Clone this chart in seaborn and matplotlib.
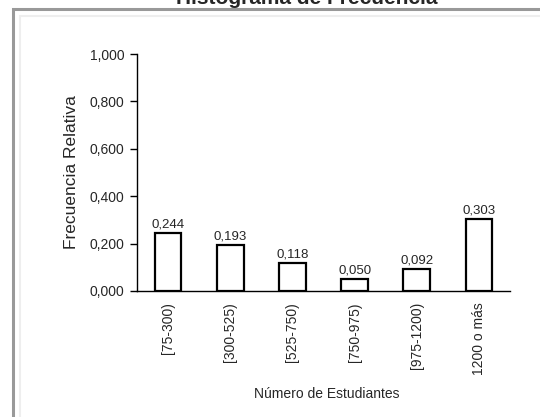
import matplotlib
matplotlib.use("Agg")
import matplotlib.pyplot as plt
from matplotlib.patches import Rectangle
from matplotlib.ticker import FuncFormatter
import seaborn as sns
import pandas as pd

categorias = ["[75-300)", "[300-525)", "[525-750)", "[750-975)", "[975-1200)", "1200 o más"]
frecuencia_relativa = [0.244, 0.193, 0.118, 0.050, 0.092, 0.303]

sns.set_style("white")
plt.rcParams["font.family"] = ["Liberation Sans", "DejaVu Sans"]

df = pd.DataFrame({"clase": categorias, "fr": frecuencia_relativa})

fig = plt.figure(figsize=(5.4, 4.17), dpi=100)

# marco exterior gris y marco interior claro
fig.patches.append(Rectangle((13 / 540, -0.1), 2.0, 1 - 9 / 417 + 0.1,
                             transform=fig.transFigure, fill=False,
                             edgecolor="#999999", linewidth=2.2))
fig.patches.append(Rectangle((20 / 540, -0.1), 2.0, 1 - 16.5 / 417 + 0.1,
                             transform=fig.transFigure, fill=False,
                             edgecolor="#eeeeee", linewidth=1.5))

ax = fig.add_axes([137 / 540, 1 - 291 / 417, 373 / 540, 237 / 417])
sns.barplot(data=df, x="clase", y="fr", ax=ax, color="white",
            edgecolor="black", linewidth=1.6, width=0.43, saturation=1)

ax.set_xlim(-0.5, 5.5)
ax.set_ylim(0, 1.0)
ax.set_yticks([0, 0.2, 0.4, 0.6, 0.8, 1.0])
ax.yaxis.set_major_formatter(FuncFormatter(lambda v, p: f"{v:.3f}".replace(".", ",")))
sns.despine(ax=ax)
for s in ("left", "bottom"):
    ax.spines[s].set_color("black")
    ax.spines[s].set_linewidth(1.0)

ax.tick_params(axis="y", which="major", direction="out", length=5, width=1,
               color="black", labelsize=10, pad=4, left=True)
ax.tick_params(axis="x", length=0, labelsize=10, pad=8, rotation=90)
for lbl in ax.get_xticklabels():
    lbl.set_verticalalignment("top")

for i, v in enumerate(frecuencia_relativa):
    ax.text(i, v + 0.012, f"{v:.3f}".replace(".", ","), ha="center", va="bottom",
            fontsize=9.5)

ax.set_ylabel("Frecuencia Relativa", fontsize=12.5, labelpad=8)
ax.set_xlabel("Número de Estudiantes", fontsize=10)
ax.xaxis.set_label_coords(0.51, -0.405)

fig.text(307 / 540, 1 - 4 / 417, "Histograma de Frecuencia", ha="center",
         va="baseline", fontsize=15, fontweight="bold")

fig.savefig("out.png", dpi=100)
